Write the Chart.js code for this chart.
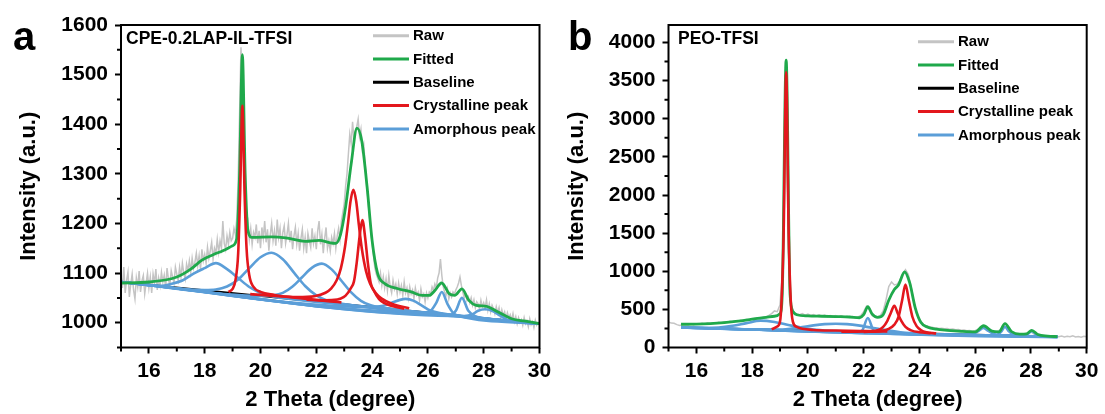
<!DOCTYPE html>
<html>
<head>
<meta charset="utf-8">
<script src="https://cdn.jsdelivr.net/npm/chart.js@4.4.1/dist/chart.umd.min.js"></script>
<style>
    html, body { margin: 0; padding: 0; background: #fff; }
    .panel { position: absolute; top: 0; height: 414px; }
    #panelA { left: 0; width: 552px; }
    #panelB { left: 552px; width: 553px; }
</style>
</head>
<body>
<div class="panel" id="panelA"><canvas id="chartA"></canvas></div>
<div class="panel" id="panelB"><canvas id="chartB"></canvas></div>
<script>
// ---- shared labels ----
const legendLabels = ["Raw", "Fitted", "Baseline", "Crystalline peak", "Amorphous peak"];
const xTickLabels = [16, 18, 20, 22, 24, 26, 28, 30];

// ---- panel a : CPE-0.2LAP-IL-TFSI ----
const yTicksA = [1000, 1100, 1200, 1300, 1400, 1500, 1600];
const rawStartA = 15;
const rawStepA = 0.05;
const rawA = [
    1095, 1070, 1112, 1060, 1085, 1102, 1052, 1078, 1098, 1066,
    1048, 1090, 1072, 1104, 1062, 1084, 1095, 1058, 1080, 1100,
    1070, 1092, 1060, 1098, 1080, 1108, 1066, 1090, 1075, 1102,
    1082, 1096, 1070, 1110, 1088, 1075, 1105, 1092, 1080, 1112,
    1098, 1085, 1112, 1092, 1120, 1100, 1088, 1118, 1105, 1125,
    1102, 1130, 1110, 1122, 1140, 1115, 1135, 1108, 1148, 1125,
    1138, 1120, 1152, 1130, 1145, 1162, 1128, 1150, 1140, 1168,
    1142, 1165, 1150, 1205, 1160, 1148, 1175, 1158, 1182, 1165,
    1170, 1190, 1178, 1210, 1290, 1420, 1555, 1480, 1320, 1230,
    1195, 1205, 1168, 1190, 1158, 1182, 1172, 1198, 1160, 1185,
    1150, 1192, 1170, 1205, 1162, 1188, 1145, 1178, 1200, 1165,
    1185, 1155, 1208, 1172, 1190, 1150, 1182, 1195, 1160, 1178,
    1200, 1162, 1185, 1148, 1175, 1192, 1158, 1180, 1145, 1170,
    1188, 1150, 1172, 1140, 1180, 1165, 1152, 1190, 1160, 1175,
    1148, 1185, 1205, 1158, 1178, 1140, 1170, 1192, 1150, 1165,
    1145, 1172, 1160, 1180, 1150, 1175, 1190, 1168, 1205, 1222,
    1240, 1275, 1300, 1340, 1380, 1360, 1405, 1370, 1385, 1395,
    1410, 1375, 1390, 1350, 1360, 1320, 1280, 1250, 1215, 1190,
    1160, 1135, 1110, 1098, 1090, 1082, 1100, 1075, 1092, 1070,
    1088, 1065, 1095, 1072, 1060, 1085, 1068, 1078, 1058, 1080,
    1062, 1075, 1055, 1082, 1060, 1070, 1050, 1072, 1058, 1066,
    1048, 1070, 1056, 1062, 1045, 1068, 1052, 1058, 1042, 1060,
    1050, 1062, 1058, 1072, 1065, 1078, 1070, 1090, 1100, 1128,
    1095, 1072, 1062, 1055, 1068, 1048, 1060, 1052, 1062, 1058,
    1066, 1072, 1080, 1092, 1075, 1062, 1050, 1058, 1045, 1052,
    1040, 1050, 1035, 1046, 1030, 1042, 1038, 1028, 1045, 1032,
    1040, 1030, 1046, 1025, 1038, 1022, 1035, 1028, 1018, 1032,
    1020, 1030, 1012, 1026, 1015, 1022, 1008, 1020, 1010, 1016,
    1005, 1018, 1002, 1012, 998, 1010, 1000, 1006, 995, 1010,
    998, 1004, 992, 1008, 996, 1002, 990, 1005, 995, 1000,
    996
];
const fitA = [
    [15, 1080], [16, 1082], [17, 1092], [17.5, 1108], [17.9, 1126], [18.3, 1137],
    [18.65, 1145], [19.0, 1155], [19.15, 1170], [19.25, 1300], [19.35, 1540],
    [19.45, 1300], [19.55, 1185], [19.7, 1172], [20.4, 1173], [20.9, 1171],
    [21.6, 1164], [22.1, 1166], [22.5, 1161], [22.7, 1160], [22.87, 1178],
    [23.05, 1233], [23.25, 1320], [23.46, 1392], [23.63, 1366], [23.82, 1274],
    [24.0, 1166], [24.2, 1099], [24.45, 1079], [24.9, 1069], [25.4, 1062],
    [25.8, 1055], [26.05, 1055], [26.25, 1065], [26.49, 1080], [26.77, 1058],
    [26.96, 1055], [27.22, 1068], [27.47, 1045], [27.73, 1035], [28.1, 1033],
    [28.5, 1022], [29.0, 1008], [29.5, 1003], [30, 998]
];
const baseA = [[15, 1082], [30, 998]];
const crysA1 = [
    [18.85, 1062], [19.0, 1068], [19.1, 1085], [19.2, 1140], [19.27, 1260],
    [19.35, 1437], [19.43, 1260], [19.5, 1150], [19.6, 1095], [19.75, 1072],
    [20.0, 1062], [20.5, 1056], [21.0, 1052], [21.5, 1049], [22.0, 1046],
    [22.5, 1043], [22.9, 1041]
];
const crysA2 = [
    [19.63, 1057.6], [20.33, 1054.5], [21.33, 1051.7], [21.93, 1053.4],
    [22.33, 1060.3], [22.53, 1068.6], [22.73, 1085.4], [22.88, 1109.6],
    [23.03, 1153.6], [23.13, 1197.5], [23.23, 1246], [23.33, 1268],
    [23.43, 1244.8], [23.53, 1195], [23.63, 1150], [23.78, 1104.5],
    [23.93, 1078.6], [24.13, 1059.6], [24.33, 1049], [24.73, 1037.7], [25.33, 1029.3]
];
const crysA3 = [
    [21.65, 1046.5], [22.15, 1045], [22.65, 1045.9], [22.85, 1048.3],
    [23.05, 1054.4], [23.25, 1070.6], [23.35, 1083.3], [23.45, 1121.7],
    [23.55, 1173], [23.65, 1207], [23.75, 1172], [23.85, 1119.4],
    [23.95, 1079.9], [24.05, 1066], [24.25, 1047.6], [24.45, 1039.3],
    [24.65, 1034.7], [25.15, 1028.2]
];
const amorA1 = [
    [15, 1082], [16.4, 1074.2], [16.8, 1078], [17.2, 1085], [17.6, 1099],
    [18.0, 1110], [18.4, 1120], [18.8, 1108], [19.2, 1090], [19.6, 1072],
    [20.0, 1060], [20.5, 1052], [21.0, 1048.5], [30, 998]
];
const amorA2 = [
    [15, 1082], [18.0, 1066], [18.4, 1067], [18.8, 1073], [19.2, 1087],
    [19.6, 1110], [20.0, 1132], [20.4, 1141], [20.8, 1128], [21.2, 1101],
    [21.6, 1074], [22.0, 1055], [22.4, 1044.5], [22.8, 1039.3], [30, 998]
];
const amorA3 = [
    [15, 1082], [20.1, 1054], [20.45, 1055], [20.8, 1060], [21.15, 1073],
    [21.5, 1092], [21.85, 1111], [22.2, 1119], [22.55, 1107.5], [22.9, 1084.5],
    [23.25, 1061], [23.6, 1044], [23.95, 1035], [24.3, 1031], [30, 998]
];
const amorA4 = [
    [15, 1082], [24.0, 1031.6], [24.4, 1034], [24.7, 1040], [25.0, 1046],
    [25.2, 1048], [25.5, 1044], [25.8, 1034], [26.1, 1024], [26.5, 1019], [30, 998]
];
const amorA5 = [
    [15, 1082], [25.9, 1021], [26.1, 1024], [26.3, 1040], [26.5, 1062],
    [26.7, 1038], [26.9, 1020], [27.1, 1014], [30, 998]
];
const amorA6 = [
    [15, 1082], [26.8, 1016], [27.0, 1024], [27.22, 1050], [27.45, 1024],
    [27.7, 1013], [27.9, 1010], [30, 998]
];
const amorA7 = [
    [15, 1082], [27.3, 1013.4], [27.6, 1017], [27.8, 1024], [28.05, 1027],
    [28.3, 1024], [28.6, 1014], [28.9, 1004.5], [30, 998]
];

// ---- panel b : PEO-TFSI ----
const yTicksB = [0, 500, 1000, 1500, 2000, 2500, 3000, 3500, 4000];
const rawStartB = 15;
const rawStepB = 0.1;
const rawB = [
    335, 320, 318, 300, 290, 298, 305, 295, 310, 300,
    312, 305, 318, 308, 320, 312, 325, 318, 332, 322,
    338, 330, 345, 338, 352, 345, 360, 352, 368, 362,
    378, 372, 388, 380, 395, 400, 420, 445, 480, 470,
    560, 1100, 3750, 1300, 560, 460, 440, 430, 445, 425,
    438, 420, 432, 415, 428, 410, 425, 408, 420, 405,
    418, 402, 415, 400, 410, 395, 405, 392, 400, 420,
    470, 540, 500, 420, 400, 405, 420, 480, 620, 800,
    860, 820, 830, 880, 960, 1020, 960, 800, 600, 440,
    350, 310, 290, 280, 270, 262, 258, 250, 252, 245,
    248, 238, 242, 232, 236, 226, 230, 220, 222, 212,
    220, 240, 265, 275, 250, 220, 212, 205, 208, 235,
    280, 270, 215, 195, 185, 180, 175, 170, 180, 195,
    205, 180, 160, 155, 150, 148, 145, 150, 142, 148,
    140, 150, 138, 146, 140, 152, 138, 145, 135, 148,
    140
];
const fitB = [
    [15.45, 305], [16, 306], [16.5, 312], [17, 325], [17.5, 345], [18, 372],
    [18.5, 395], [18.8, 410], [19.0, 445], [19.08, 700], [19.22, 3770],
    [19.36, 700], [19.47, 470], [19.6, 430], [20, 415], [20.5, 410], [21, 405],
    [21.5, 400], [21.85, 390], [22.0, 430], [22.15, 535], [22.3, 440],
    [22.5, 395], [22.7, 430], [22.9, 620], [23.1, 760], [23.25, 820],
    [23.47, 990], [23.65, 850], [23.85, 520], [24.05, 330], [24.3, 265],
    [24.6, 240], [25, 225], [25.5, 212], [26.0, 205], [26.3, 285], [26.6, 215],
    [26.85, 205], [27.07, 312], [27.3, 210], [27.6, 175], [27.85, 180],
    [28.03, 224], [28.25, 170], [28.6, 150], [28.95, 142]
];
const baseB = [[15.45, 262], [28.95, 140]];
const crysB1 = [
    [18.7, 240], [18.9, 275], [19.0, 340], [19.06, 650], [19.13, 1500],
    [19.22, 3610], [19.31, 1500], [19.38, 650], [19.46, 340], [19.6, 270],
    [19.8, 245], [20.2, 230], [21, 222], [22, 215], [22.85, 210]
];
const crysB2 = [
    [21.2, 206], [22.0, 210], [22.5, 225], [22.7, 270], [22.85, 350],
    [22.97, 450], [23.1, 548], [23.22, 450], [23.35, 350], [23.5, 270],
    [23.7, 225], [24.0, 200], [24.4, 188]
];
const crysB3 = [
    [22.0, 205], [22.6, 215], [22.9, 245], [23.1, 300], [23.25, 400],
    [23.38, 620], [23.5, 825], [23.62, 620], [23.75, 400], [23.9, 280],
    [24.05, 230], [24.25, 200], [24.6, 185]
];
const amorB1 = [
    [15.45, 262], [16.3, 256], [16.8, 262], [17.3, 285], [17.8, 320],
    [18.3, 352], [18.8, 335], [19.3, 295], [19.8, 258], [20.3, 232],
    [21, 215], [28.95, 140]
];
const amorB2 = [
    [15.45, 262], [18.6, 234], [19.2, 240], [19.7, 262], [20.2, 290],
    [20.6, 306], [21.0, 312], [21.4, 306], [21.8, 290], [22.3, 258],
    [22.8, 228], [23.4, 196], [28.95, 140]
];
const amorB3 = [
    [15.45, 262], [21.8, 205], [21.95, 225], [22.15, 387], [22.35, 225],
    [22.5, 202], [28.95, 140]
];
const amorB4 = [
    [15.45, 262], [25.8, 170], [26.0, 190], [26.15, 225], [26.29, 255],
    [26.45, 222], [26.6, 190], [26.8, 162], [28.95, 140]
];
const amorB5 = [
    [15.45, 262], [26.7, 160], [26.85, 180], [26.95, 215], [27.07, 272],
    [27.2, 215], [27.35, 175], [27.5, 155], [28.95, 140]
];
const amorB6 = [
    [15.45, 262], [27.7, 152], [27.85, 168], [28.03, 215], [28.2, 170],
    [28.35, 152], [28.95, 140]
];

// ---- styles ----
const FONT = '"Liberation Sans", Arial, Helvetica, sans-serif';
const colors = {
    raw: "#c4c4c4",
    fit: "#1fa94b",
    base: "#000000",
    crys: "#e3171d",
    amor: "#5b9ed8"
};
const legendColors = [colors.raw, colors.fit, colors.base, colors.crys, colors.amor];

function toPoints(pairs) {
    return pairs.map(([x, y]) => ({ x, y }));
}

function rawPoints(values, start, step) {
    return values.map((v, i) => ({ x: start + i * step, y: v }));
}

function curve(pairs, color, order, width) {
    return {
        data: toPoints(pairs),
        borderColor: color,
        borderWidth: width || 2.6,
        pointRadius: 0,
        cubicInterpolationMode: "monotone",
        order: order
    };
}

// order: lower number is drawn on top
function buildDatasets(raw, fit, base, crystalline, amorphous) {
    const sets = [];
    crystalline.forEach((c) => sets.push(curve(c, colors.crys, 0)));
    sets.push(curve(fit, colors.fit, 1, 2.8));
    amorphous.forEach((a) => sets.push(curve(a, colors.amor, 2)));
    sets.push(curve(base, colors.base, 3, 2));
    sets.push({
        data: raw,
        borderColor: colors.raw,
        borderWidth: 1.5,
        pointRadius: 0,
        tension: 0,
        order: 4
    });
    return sets;
}

// frame, minor ticks, titles, legend
const decorPlugin = {
    id: "decor",
    afterDraw(chart, args, opts) {
        const { ctx, chartArea: a } = chart;
        const xs = chart.scales.x;
        const ys = chart.scales.y;
        ctx.save();

        ctx.strokeStyle = "#000";
        ctx.lineWidth = 2;
        ctx.strokeRect(a.left, a.top, a.right - a.left, a.bottom - a.top);

        // minor ticks
        ctx.beginPath();
        opts.minorX.forEach((v) => {
            const px = xs.getPixelForValue(v);
            ctx.moveTo(px, a.bottom);
            ctx.lineTo(px, a.bottom + 4);
        });
        opts.minorY.forEach((v) => {
            const py = ys.getPixelForValue(v);
            ctx.moveTo(a.left, py);
            ctx.lineTo(a.left - 4, py);
        });
        ctx.stroke();

        ctx.fillStyle = "#000";
        ctx.font = `bold 22px ${FONT}`;
        ctx.textAlign = "center";
        ctx.textBaseline = "middle";
        ctx.fillText("2 Theta (degree)", (a.left + a.right) / 2, 400);

        ctx.save();
        ctx.translate(opts.yTitleX, (a.top + a.bottom) / 2);
        ctx.rotate(-Math.PI / 2);
        ctx.fillText("Intensity (a.u.)", 0, 0);
        ctx.restore();

        ctx.textAlign = "left";
        ctx.textBaseline = "alphabetic";
        ctx.font = `bold 40px ${FONT}`;
        ctx.fillText(opts.letter, opts.letterX, 50);

        ctx.textBaseline = "middle";
        ctx.font = `bold 17.5px ${FONT}`;
        ctx.fillText(opts.sample, opts.sampleX, 39);

        // legend
        ctx.font = `bold 15px ${FONT}`;
        legendLabels.forEach((label, i) => {
            const y = opts.legendY + i * 23.3;
            ctx.strokeStyle = legendColors[i];
            ctx.lineWidth = 3;
            ctx.beginPath();
            ctx.moveTo(opts.legendX, y);
            ctx.lineTo(opts.legendX + 36, y);
            ctx.stroke();
            ctx.fillStyle = "#000";
            ctx.fillText(label, opts.legendX + 40, y + 0.5);
        });

        ctx.restore();
    }
};

function midTicks(ticks, min, max) {
    const step = ticks[1] - ticks[0];
    const out = [];
    ticks.forEach((t) => {
        if (t - step / 2 >= min) out.push(t - step / 2);
    });
    const last = ticks[ticks.length - 1] + step / 2;
    if (last <= max) out.push(last);
    return out;
}

function makeChart(id, cfg) {
    const tickFont = { family: FONT, size: 21, weight: "bold" };
    new Chart(document.getElementById(id), {
        type: "line",
        data: { datasets: cfg.datasets },
        options: {
            responsive: true,
            maintainAspectRatio: false,
            animation: false,
            events: [],
            layout: { padding: { left: 0, top: 25, right: cfg.padRight, bottom: 0 } },
            plugins: {
                legend: { display: false },
                tooltip: { enabled: false },
                decor: cfg.decor
            },
            scales: {
                x: {
                    type: "linear",
                    min: 15,
                    max: 30,
                    afterBuildTicks: (s) => { s.ticks = xTickLabels.map((v) => ({ value: v })); },
                    afterFit: (s) => { s.height = 66.5; s.paddingLeft = 0; s.paddingRight = 0; },
                    border: { display: false },
                    grid: { drawOnChartArea: false, drawTicks: true, tickLength: 6, tickWidth: 2, tickColor: "#000" },
                    ticks: { color: "#000", font: tickFont, padding: 5, maxRotation: 0, autoSkip: false, callback: (v) => String(v) }
                },
                y: {
                    type: "linear",
                    min: cfg.yMin,
                    max: cfg.yMax,
                    afterBuildTicks: (s) => { s.ticks = cfg.yTicks.map((v) => ({ value: v })); },
                    afterFit: (s) => { s.width = cfg.axisLeft; s.paddingTop = 0; s.paddingBottom = 0; },
                    border: { display: false },
                    grid: { drawOnChartArea: false, drawTicks: true, tickLength: 6, tickWidth: 2, tickColor: "#000" },
                    ticks: { color: "#000", font: tickFont, padding: 7, autoSkip: false, callback: (v) => String(v) }
                }
            }
        },
        plugins: [decorPlugin]
    });
}

makeChart("chartA", {
    datasets: buildDatasets(
        rawPoints(rawA, rawStartA, rawStepA), fitA, baseA,
        [crysA1, crysA2, crysA3],
        [amorA1, amorA2, amorA3, amorA4, amorA5, amorA6, amorA7]
    ),
    yMin: 950,
    yMax: 1600,
    yTicks: yTicksA,
    axisLeft: 121,
    padRight: 12.5,
    decor: {
        minorX: midTicks(xTickLabels, 15, 30),
        minorY: midTicks(yTicksA, 950, 1600),
        yTitleX: 29,
        letter: "a",
        letterX: 13,
        sample: "CPE-0.2LAP-IL-TFSI",
        sampleX: 126,
        legendX: 373,
        legendY: 35.7
    }
});

makeChart("chartB", {
    datasets: buildDatasets(
        rawPoints(rawB, rawStartB, rawStepB), fitB, baseB,
        [crysB1, crysB2, crysB3],
        [amorB1, amorB2, amorB3, amorB4, amorB5, amorB6]
    ),
    yMin: 0,
    yMax: 4230,
    yTicks: yTicksB,
    axisLeft: 116.5,
    padRight: 18.3,
    decor: {
        minorX: midTicks(xTickLabels, 15, 30),
        minorY: midTicks(yTicksB, 0, 4230),
        yTitleX: 25,
        letter: "b",
        letterX: 16,
        sample: "PEO-TFSI",
        sampleX: 126,
        legendX: 366,
        legendY: 41.7
    }
});
</script>
</body>
</html>
